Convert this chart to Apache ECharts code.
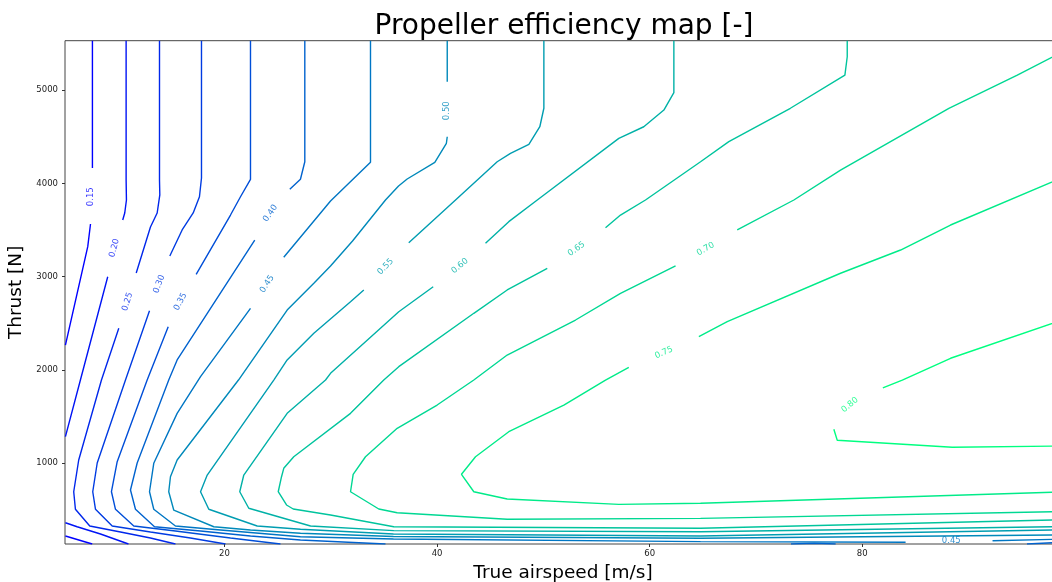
<!DOCTYPE html>
<html><head><meta charset="utf-8">
<script src="https://cdn.jsdelivr.net/npm/echarts@6/dist/echarts.min.js"></script>
<style>html,body{margin:0;padding:0;background:#fff}#c{width:1052px;height:582px}</style>
</head><body><div id="c"></div>
<script>
// ---- data (x = true airspeed [m/s], y = thrust [N]) ----
const levels = [0.15,0.20,0.25,0.30,0.35,0.40,0.45,0.50,0.55,0.60,0.65,0.70,0.75,0.80];
const xTicks = [20,40,60,80];
const yTicks = [1000,2000,3000,4000,5000];
const xRange = [5.0, 98.7];
const yRange = [135, 5528];

const c15 = [
 [[7.58,5528],[7.58,4164]],
 [[7.40,3564],[7.14,3321],[5.04,2267]],
 [[5.04,221],[7.56,135]]
];
const c20 = [
 [[10.75,5528],[10.75,4035],[10.78,3821],[10.62,3682],[10.43,3607]],
 [[9.02,2999],[6.45,1892],[5.04,1285]],
 [[5.04,363],[6.14,320],[8.34,242],[10.97,135]]
];
const c25 = [
 [[13.89,5528],[13.89,4035],[13.92,3875],[13.67,3682],[13.04,3532],[11.70,3039]],
 [[10.06,2446],[8.43,1892],[6.29,1035],[5.82,695],[5.98,507],[7.33,328],[10.22,264],[13.04,199],[15.39,135]]
];
const c30 = [
 [[17.84,5528],[17.84,4057],[17.65,3856],[17.06,3682],[16.02,3500],[14.86,3221]],
 [[12.95,2635],[10.69,1892],[8.03,1003],[7.61,695],[7.87,507],[9.44,328],[13.04,264],[16.80,199],[20.10,135]]
];
const c35 = [
 [[22.45,5528],[22.45,4043],[21.51,3856],[20.57,3660],[17.34,3025]],
 [[14.71,2463],[12.73,1892],[9.91,1017],[9.37,695],[9.75,507],[11.47,328],[15.39,274],[20.57,199],[25.27,135]]
];
const c40 = [
 [[27.56,5528],[27.56,4231],[27.15,4043],[26.15,3936]],
 [[22.85,3392],[15.55,2107],[14.76,1892],[11.79,1003],[11.16,714],[11.63,507],[13.42,320],[17.75,274],[22.45,221],[27.15,178],[35.15,135]],
 [[73.3,135],[75.5,143],[77.5,135]],
 [[95.5,135],[97.9,149]]
];
const c45 = [
 [[33.74,5528],[33.74,4225],[29.98,3810],[25.58,3207]],
 [[22.45,2660],[17.75,1928],[15.55,1535],[13.35,1000],[12.95,695],[13.35,507],[15.39,328],[19.63,285],[27.15,213],[35.90,189],[64.79,160],[84.08,153]],
 [[92.26,170],[98.7,187]]
];
const c50 = [
 [[40.96,5528],[40.96,5089]],
 [[40.96,4499],[40.88,4429],[39.79,4225],[37.19,4046],[36.38,3971],[35.15,3821],[32.05,3382],[29.98,3114],[28.41,2928],[25.90,2642],[21.32,1892],[15.55,1035],[14.92,856],[14.76,695],[15.23,499],[19.00,320],[22.45,285],[27.15,250],[35.90,215],[64.79,196],[98.7,232]]
];
const c55 = [
 [[50.05,5528],[50.05,4804],[49.67,4606],[48.64,4418],[46.91,4321],[45.66,4231],[41.74,3821],[37.34,3363]],
 [[33.11,2857],[31.86,2731],[28.41,2393],[25.90,2107],[24.64,1892],[18.38,874],[17.75,695],[18.53,507],[23.08,328],[27.15,293],[35.90,242],[64.79,221],[98.7,286]]
];
const c60 = [
 [[62.28,5528],[62.28,4971],[61.34,4785],[59.45,4606],[57.10,4482],[49.43,3821],[46.75,3589],[44.56,3357]],
 [[39.64,2892],[36.40,2624],[29.98,1964],[29.51,1892],[25.90,1535],[21.82,874],[21.44,695],[22.29,518],[28.10,328],[35.93,278],[64.79,267],[98.7,322]]
];
const c65 = [
 [[78.59,5528],[78.59,5356],[78.37,5160],[73.24,4804],[67.45,4446],[64.79,4231],[59.61,3821],[57.26,3660],[55.85,3524]],
 [[50.37,3089],[46.60,2857],[43.46,2607],[36.40,2035],[34.99,1892],[31.86,1535],[26.52,1070],[25.58,946],[25.37,856],[25.06,695],[25.84,553],[26.47,510],[29.98,446],[35.93,320],[64.79,303],[98.7,394]]
];
const c70 = [
 [[98.7,5400],[94.59,5160],[88.15,4804],[77.96,4142],[73.57,3821],[68.24,3500]],
 [[62.44,3114],[57.26,2821],[53.03,2535],[46.60,2160],[43.46,1892],[40.01,1624],[36.25,1375],[33.27,1070],[32.11,882],[31.86,695],[34.52,510],[36.25,470],[46.60,400],[64.79,410],[98.7,483]]
];
const c75 = [
 [[98.7,4055],[88.31,3553],[83.61,3285],[77.96,3036],[67.30,2517],[64.63,2356]],
 [[58.04,2028],[55.85,1892],[51.93,1624],[46.75,1338],[43.62,1070],[42.30,882],[43.46,695],[46.60,617],[57.10,560],[64.79,571],[98.7,692]]
];
const c80 = [
 [[98.7,2530],[88.31,2125],[83.77,1892],[81.94,1807]],
 [[77.33,1364],[77.65,1246],[88.47,1171],[98.7,1185]]
];
const contours = [c15,c20,c25,c30,c35,c40,c45,c50,c55,c60,c65,c70,c75,c80];

// inline contour labels
const labelLevel = [0.15,0.20,0.25,0.30,0.35,0.40,0.45,0.50,0.55,0.60,0.65,0.70,0.75,0.80,0.45];
const labelX     = [7.46,9.65,10.88,13.86,15.86,24.33,24.02,40.96,35.15,42.15,53.12,65.26,61.34,78.84,88.38];
const labelY     = [3856,3307,2731,2921,2731,3678,2921,4778,3106,3114,3296,3296,2185,1624,167];
const labelAngle = [90,75,72,70,62,55,57,90,46,40,35,30,24,40,0];

// ---- chart ----
function winter(lev){
  const t = (lev - levels[0]) / (levels[levels.length-1] - levels[0]);
  return 'rgb(0,' + Math.round(255*t) + ',' + Math.round(255*(1-0.5*t)) + ')';
}
const FONT = 'DejaVu Sans';
const series = [];
levels.forEach(function(lev, i){
  contours[i].forEach(function(seg){
    series.push({type:'line', data:seg, symbol:'none', showSymbol:false, silent:true,
      lineStyle:{color:winter(lev), width:1.4}, animation:false, z:2});
  });
});
series.push({
  type:'scatter', symbol:'circle', symbolSize:1, silent:true, animation:false, z:3,
  itemStyle:{color:'rgba(0,0,0,0)'},
  data: labelX.map(function(x,i){ return {value:[x,labelY[i]],
    label:{rotate:labelAngle[i], color:winter(labelLevel[i])}}; }),
  label:{show:true, position:'inside', fontSize:8.5, fontFamily:FONT,
    formatter:function(p){ return labelLevel[p.dataIndex].toFixed(2); }}
});

const chart = echarts.init(document.getElementById('c'), null, {renderer:'canvas'});
chart.setOption({
  animation:false,
  backgroundColor:'#fff',
  title:{text:'Propeller efficiency map [-]', left:559, top:8, textAlign:'center',
    textStyle:{fontSize:28, fontWeight:'normal', color:'#000', fontFamily:FONT}},
  grid:{left:65, width:996, top:40.7, height:503.3, show:true, borderColor:'#444', borderWidth:1,
    containLabel:false, outerBoundsMode:'none'},
  xAxis:{type:'value', min:xRange[0], max:xRange[1],
    name:'True airspeed [m/s]', nameLocation:'middle', nameGap:20,
    nameTextStyle:{fontSize:18.5, color:'#000', fontFamily:FONT},
    axisLine:{show:false}, splitLine:{show:false},
    axisTick:{show:true, length:3, customValues:xTicks, lineStyle:{color:'#333'}},
    axisLabel:{customValues:xTicks, fontSize:8.5, color:'#222', fontFamily:FONT, margin:5,
      formatter:function(v){ return String(v); }}},
  yAxis:{type:'value', min:yRange[0], max:yRange[1],
    name:'Thrust [N]', nameLocation:'middle', nameGap:28,
    nameTextStyle:{fontSize:18.5, color:'#000', fontFamily:FONT},
    axisLine:{show:false}, splitLine:{show:false},
    axisTick:{show:true, length:3, customValues:yTicks, lineStyle:{color:'#333'}},
    axisLabel:{customValues:yTicks, fontSize:8.5, color:'#222', fontFamily:FONT, margin:7,
      formatter:function(v){ return String(v); }}},
  series:series
});
</script></body></html>
